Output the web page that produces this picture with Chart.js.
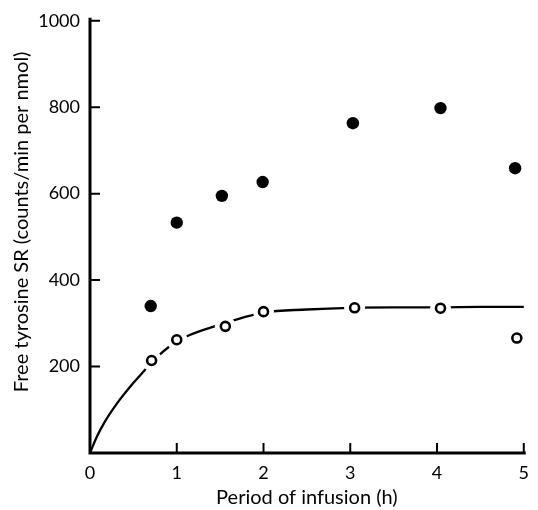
<!DOCTYPE html>
<html lang="en">
<head>
    <meta charset="UTF-8">
    <title>Free tyrosine SR vs period of infusion</title>
    <script src="https://cdn.jsdelivr.net/npm/chart.js"></script>
    <style>
        body { margin: 0; background: #fff; }
        #chart { display: block; }
    </style>
</head>
<body>
    <canvas id="chart" width="538" height="510"></canvas>
    <script>
        // values
        const xTicks = [0, 1, 2, 3, 4, 5];
        const yTicks = [0, 200, 400, 600, 800, 1000];

        const filledHours = [0.70, 1.00, 1.52, 1.99, 3.03, 4.04, 4.90];
        const filledSR    = [340, 533, 595, 627, 763, 798, 659];

        const openHours = [0.71, 1.00, 1.56, 2.00, 3.05, 4.04, 4.92];
        const openSR    = [214, 262, 293, 327, 336, 335, 266];

        // fitted curve
        const curveHours = [0, 0.08, 0.17, 0.32, 0.47, 0.62, 0.70, 1.00, 1.50, 2.00, 2.50, 3.00, 3.50, 4.00, 4.50, 5.00];
        const curveSR    = [0, 38, 72, 117, 155, 189, 208, 258, 297, 325, 332, 336, 337, 337, 338, 338];

        const yTitle = 'Free tyrosine SR (counts/min per nmol)';

        const toPoints = (xs, ys) => xs.map((x, i) => ({ x: x, y: ys[i] }));

        const fontFamily = 'Lato, "Open Sans", sans-serif';

        // axis lines + inward tick marks + y title (sits a bit above centre in the original)
        const axesPlugin = {
            id: 'axes',
            afterDatasetsDraw(chart) {
                const { ctx, chartArea, scales } = chart;
                const xs = scales.x, ys = scales.y;
                ctx.save();
                ctx.strokeStyle = '#000';
                ctx.lineCap = 'butt';
                ctx.lineWidth = 3;
                ctx.beginPath();
                ctx.moveTo(chartArea.left, chartArea.top - 3);
                ctx.lineTo(chartArea.left, chartArea.bottom + 1.5);
                ctx.moveTo(chartArea.left - 1.5, chartArea.bottom);
                ctx.lineTo(chartArea.right + 2, chartArea.bottom);
                ctx.stroke();
                ctx.lineWidth = 2;
                ctx.beginPath();
                xTicks.forEach(v => {
                    if (v === 0) return;
                    const px = xs.getPixelForValue(v);
                    ctx.moveTo(px, chartArea.bottom);
                    ctx.lineTo(px, chartArea.bottom - 10);
                });
                yTicks.forEach(v => {
                    if (v === 0) return;
                    const py = ys.getPixelForValue(v);
                    ctx.moveTo(chartArea.left, py);
                    ctx.lineTo(chartArea.left + 10, py);
                });
                ctx.stroke();

                ctx.fillStyle = '#000';
                ctx.font = '20px ' + fontFamily;
                ctx.textAlign = 'center';
                ctx.textBaseline = 'middle';
                ctx.translate(22, (chartArea.top + chartArea.bottom) / 2 - 15);
                ctx.rotate(-Math.PI / 2);
                ctx.fillText(yTitle, 0, 0);
                ctx.restore();
            }
        };

        new Chart(document.getElementById('chart'), {
            type: 'scatter',
            data: {
                datasets: [
                    {
                        label: 'fit',
                        data: toPoints(curveHours, curveSR),
                        showLine: true,
                        borderColor: '#000',
                        borderWidth: 2.3,
                        pointRadius: 0,
                        cubicInterpolationMode: 'monotone',
                        order: 4
                    },
                    {
                        // white gap where the curve meets the open circles
                        label: 'halo',
                        data: toPoints(openHours, openSR),
                        pointRadius: 10.5,
                        backgroundColor: '#fff',
                        borderWidth: 0,
                        order: 3
                    },
                    {
                        label: 'open',
                        data: toPoints(openHours, openSR),
                        pointRadius: 4.5,
                        backgroundColor: '#fff',
                        borderColor: '#000',
                        borderWidth: 2.6,
                        order: 2
                    },
                    {
                        label: 'filled',
                        data: toPoints(filledHours, filledSR),
                        pointRadius: 6.2,
                        backgroundColor: '#000',
                        borderColor: '#000',
                        borderWidth: 0,
                        order: 1
                    }
                ]
            },
            options: {
                responsive: false,
                animation: false,
                clip: false,
                layout: { padding: { top: 20, right: 5, left: 0, bottom: 0 } },
                plugins: {
                    legend: { display: false },
                    tooltip: { enabled: false }
                },
                scales: {
                    x: {
                        type: 'linear',
                        min: 0,
                        max: 5,
                        afterFit: s => { s.height = 57; },
                        afterBuildTicks: s => { s.ticks = xTicks.map(v => ({ value: v })); },
                        grid: { display: false, drawTicks: false },
                        border: { display: false },
                        ticks: {
                            padding: 9,
                            color: '#000',
                            font: { family: fontFamily, size: 18 }
                        },
                        title: {
                            display: true,
                            text: 'Period of infusion (h)',
                            color: '#000',
                            padding: { top: 0, bottom: 0 },
                            font: { family: fontFamily, size: 20 }
                        }
                    },
                    y: {
                        type: 'linear',
                        min: 0,
                        max: 1000,
                        afterFit: s => { s.width = 90; },
                        afterBuildTicks: s => { s.ticks = yTicks.map(v => ({ value: v })); },
                        grid: { display: false, drawTicks: false },
                        border: { display: false },
                        ticks: {
                            padding: 10,
                            color: '#000',
                            font: { family: fontFamily, size: 18 },
                            callback: v => (v === 0 ? '' : v)
                        },
                        title: { display: false }
                    }
                }
            },
            plugins: [axesPlugin]
        });
    </script>
</body>
</html>
